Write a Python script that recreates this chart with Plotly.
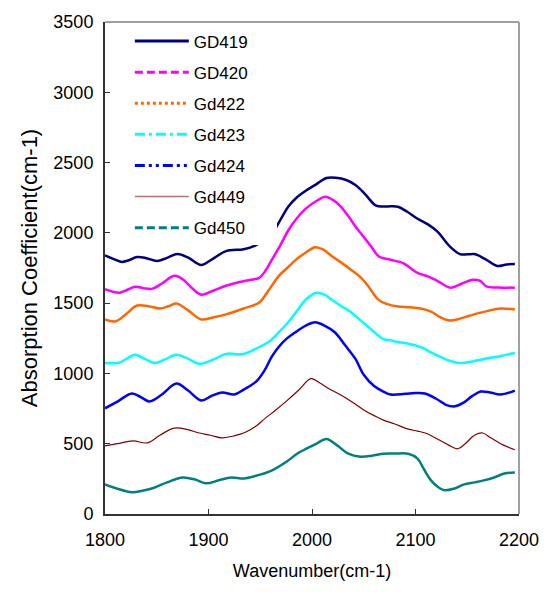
import plotly.graph_objects as go

# ---------------- data ----------------
gd419_x = [1800,1808,1816,1823,1831,1840,1850,1860,1870,1880,1893,1903,1917,1934,1945,1960,1970,1977,1985,1994,2004,2014,2023,2033,2042,2051,2062,2072,2083,2092,2102,2112,2121,2133,2143,2150,2157,2167,2179,2188,2196]
gd419_y = [1840,1815,1793,1805,1828,1820,1800,1822,1849,1825,1771,1810,1870,1884,1910,1982,2100,2186,2250,2299,2345,2390,2392,2376,2340,2278,2193,2188,2186,2150,2100,2060,2010,1905,1849,1847,1849,1815,1764,1775,1778]

gd420_x = [1800,1814,1820,1829,1838,1846,1855,1867,1875,1885,1893,1905,1917,1930,1940,1949,1955,1961,1970,1977,1985,1994,2005,2013,2025,2035,2042,2050,2057,2065,2075,2088,2095,2102,2112,2121,2134,2145,2155,2162,2169,2180,2196]
gd420_y = [1600,1574,1590,1617,1605,1603,1640,1694,1670,1600,1560,1590,1624,1650,1665,1680,1730,1806,1920,2017,2100,2172,2230,2256,2207,2120,2045,1970,1905,1830,1810,1785,1750,1715,1690,1659,1610,1640,1666,1660,1617,1612,1610]

gd422_x = [1800,1810,1820,1831,1842,1853,1862,1869,1880,1893,1905,1917,1934,1949,1958,1968,1976,1984,1994,2003,2011,2019,2028,2038,2046,2054,2064,2072,2083,2094,2105,2115,2124,2133,2143,2152,2160,2170,2182,2196]
gd422_y = [1384,1370,1420,1483,1478,1462,1480,1497,1450,1384,1400,1420,1462,1504,1590,1694,1750,1806,1860,1898,1880,1835,1790,1736,1690,1624,1525,1495,1476,1470,1462,1440,1400,1377,1390,1410,1427,1445,1462,1455]

gd423_x = [1800,1813,1820,1829,1838,1848,1858,1869,1880,1891,1905,1917,1934,1949,1958,1968,1977,1986,1994,2004,2012,2019,2028,2038,2048,2057,2069,2076,2083,2094,2105,2115,2124,2133,2142,2155,2166,2176,2186,2196]
gd423_y = [1075,1075,1100,1132,1105,1075,1100,1132,1105,1068,1100,1139,1139,1188,1223,1293,1364,1450,1525,1574,1560,1525,1480,1434,1370,1314,1244,1235,1223,1210,1188,1150,1118,1090,1075,1085,1103,1115,1130,1146]

gd424_x = [1800,1812,1826,1835,1843,1855,1869,1880,1893,1903,1913,1925,1934,1946,1954,1961,1968,1975,1984,1994,2003,2012,2022,2032,2042,2050,2060,2069,2076,2090,2100,2109,2120,2130,2138,2146,2155,2163,2172,2182,2196]
gd424_y = [752,800,857,830,801,850,928,880,808,840,864,850,885,942,1020,1118,1190,1244,1293,1340,1364,1340,1293,1200,1103,990,910,871,850,855,860,857,820,775,766,790,840,871,865,850,878]

gd449_x = [1800,1812,1827,1841,1853,1867,1880,1891,1902,1913,1924,1934,1945,1955,1965,1975,1987,1999,2008,2016,2027,2038,2050,2060,2069,2080,2093,2102,2112,2122,2132,2141,2148,2157,2165,2173,2185,2196]
gd449_y = [485,500,520,506,560,611,600,576,560,541,555,576,620,682,740,801,880,963,930,893,850,801,740,700,668,640,604,590,569,530,490,464,500,560,576,540,490,457]

gd450_x = [1800,1812,1826,1836,1846,1860,1875,1887,1898,1910,1922,1934,1945,1961,1975,1987,1996,2004,2014,2024,2035,2047,2058,2069,2080,2093,2102,2108,2115,2122,2128,2137,2147,2157,2166,2176,2186,2196]
gd450_y = [211,180,155,165,183,225,260,245,218,240,260,253,270,309,370,436,470,499,534,490,429,408,415,429,430,429,394,320,239,190,169,180,211,225,239,260,288,295]

names = ["GD419", "GD420", "Gd422", "Gd423", "Gd424", "Gd449", "Gd450"]
x_ticks = [1800, 1900, 2000, 2100, 2200]
y_ticks = [0, 500, 1000, 1500, 2000, 2500, 3000, 3500]

# ---------------- styles ----------------
colors = ["#000080", "#FF00FF", "#FF6600", "#00FFFF", "#0000FF", "#800000", "#008080"]
widths = [2.5, 2.5, 2.5, 2.5, 2.5, 1.2, 2.5]
legend_dash = ["solid", "8px,4px", "3px,3px", "10px,4px,3px,4px", "10px,4px,3px,4px,3px,4px", "solid", "8px,4px"]
legend_colors = ["#000080", "#FF00FF", "#FF6600", "#00FFFF", "#0000FF", "#B87070", "#008080"]

series = [(gd419_x, gd419_y), (gd420_x, gd420_y), (gd422_x, gd422_y), (gd423_x, gd423_y),
          (gd424_x, gd424_y), (gd449_x, gd449_y), (gd450_x, gd450_y)]

fig = go.Figure()
for i, (xs, ys) in enumerate(series):
    fig.add_trace(go.Scatter(x=xs, y=ys, mode="lines", showlegend=False,
                             line=dict(color=colors[i], width=widths[i], shape="spline", smoothing=1.0)))
for i, nm in enumerate(names):
    fig.add_trace(go.Scatter(x=[None], y=[None], mode="lines", name=nm + "\u00a0" * 5, legendgroup=nm,
                             line=dict(color=legend_colors[i], width=3 if widths[i] > 2 else 1.5,
                                       dash=legend_dash[i])))

axis_common = dict(showline=True, linecolor="#333333", linewidth=2, ticks="inside", ticklen=5,
                   tickcolor="#333333", tickwidth=1, showgrid=False, zeroline=False,
                   tickfont=dict(size=18, color="black"))

fig.update_layout(
    width=551, height=600,
    margin=dict(l=105, r=29, t=15, b=86),
    plot_bgcolor="white", paper_bgcolor="white",
    font=dict(family="Arial, Liberation Sans, sans-serif", size=17, color="black"),
    xaxis=dict(range=[1800, 2200], tickvals=x_ticks, ticklabelstandoff=8,
               title=dict(text="Wavenumber(cm-1)", font=dict(size=18), standoff=16), **axis_common),
    yaxis=dict(range=[0, 3500], tickvals=y_ticks, ticklabelstandoff=6,
               title=dict(text="Absorption Coefficient(cm-1)", font=dict(size=22), standoff=10), **axis_common),
    legend=dict(x=0.06, y=0.997, xanchor="left", yanchor="top", bgcolor="white",
                borderwidth=0, font=dict(size=17), tracegroupgap=6, itemwidth=54),
    shapes=[
        dict(type="line", xref="paper", yref="paper", x0=0, x1=1, y0=1, y1=1,
             line=dict(color="#A0A0A0", width=2)),
        dict(type="line", xref="paper", yref="paper", x0=1, x1=1, y0=0, y1=1,
             line=dict(color="#A0A0A0", width=2)),
    ],
)

fig.write_html("out.html")
